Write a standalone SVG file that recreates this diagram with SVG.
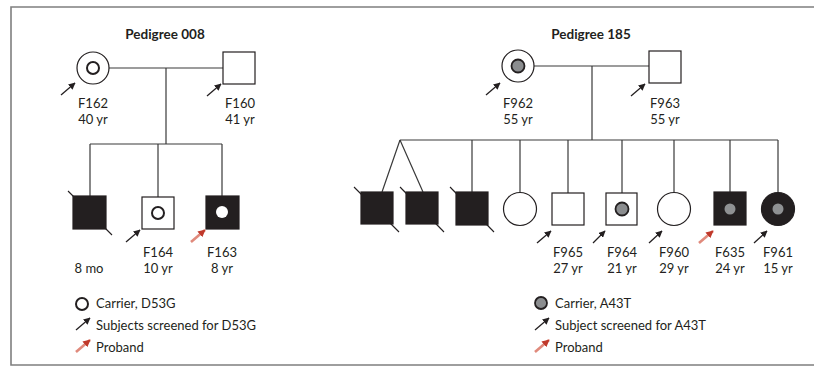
<svg xmlns="http://www.w3.org/2000/svg" width="814" height="367" viewBox="0 0 814 367">
<style>
.t{font-family:Lato,"Liberation Sans",sans-serif;font-size:13px;fill:#231f20}
.c{text-anchor:middle}
.h{font-weight:700;font-size:13.5px}
.ln{stroke:#3a3a3a;stroke-width:1.2;fill:none}
.sym{stroke:#231f20;stroke-width:1.2;fill:#fff}
.blk{fill:#231f20;stroke:#231f20;stroke-width:1.2}
.dot{fill:#fff;stroke:#231f20;stroke-width:2}
.gry{fill:#8b8d8f;stroke:#231f20;stroke-width:1.8}
.gdot{fill:#8f9193}
.wdot{fill:#fff}
.ar{stroke:#231f20;stroke-width:1.3;fill:none;marker-end:url(#ah)}
.pr{stroke:#e08a7c;stroke-width:2.6;fill:none;marker-end:url(#rh)}
.sl{stroke:#231f20;stroke-width:1.1}
</style>
<defs>
<marker id="ah" viewBox="0 0 10 10" refX="9" refY="5" markerWidth="7" markerHeight="7" markerUnits="userSpaceOnUse" orient="auto"><path d="M0,0 L10,5 L0,10 z" fill="#231f20"/></marker>
<marker id="rh" viewBox="0 0 10 10" refX="9" refY="5" markerWidth="7.5" markerHeight="7.5" markerUnits="userSpaceOnUse" orient="auto"><path d="M0,0 L10,5 L0,10 z" fill="#c0392b"/></marker>
</defs>
<rect width="814" height="367" fill="#fff"/>
<path d="M814,7 H11 V365 H814" fill="none" stroke="#7f7f7f" stroke-width="1.6"/>

<g id="connectors">
<path class="ln" d="M109,68 H223 M166,68 V144 M90,144 H222 M90,144 V196 M158,144 V197 M222,144 V196"/>
<path class="ln" d="M534,66 H649 M592,66 V140 M400,140 H778 M400,140 L382,192 M400,140 L423,192 M472,140 V192 M520,140 V192 M568,140 V193 M622,140 V193 M674,140 V192 M730,140 V192 M778,140 V192"/>
</g>

<text class="t h c" x="165" y="39">Pedigree 008</text>
<text class="t h c" x="591" y="39">Pedigree 185</text>

<g id="F162"><circle class="sym" cx="93" cy="68" r="16"/><circle class="dot" cx="93" cy="68" r="6"/><path class="ar" d="M61,95 L75,83"/><text class="t c" x="93" y="108">F162</text><text class="t c" x="93" y="124">40 yr</text></g>
<g id="F160"><rect class="sym" x="223" y="52" width="32" height="32"/><path class="ar" d="M207,96 L221,84"/><text class="t c" x="240" y="108">F160</text><text class="t c" x="240" y="124">41 yr</text></g>
<g id="c008a"><line class="sl" x1="68" y1="191" x2="112" y2="235"/><rect class="blk" x="73" y="196" width="33" height="33"/><text class="t c" x="89" y="273">8 mo</text></g>
<g id="F164"><rect class="sym" x="142" y="197" width="32" height="32"/><circle class="dot" cx="158" cy="213" r="6"/><path class="ar" d="M126,242 L140,230"/><text class="t c" x="158" y="257">F164</text><text class="t c" x="158" y="273">10 yr</text></g>
<g id="F163"><rect class="blk" x="206" y="196" width="33" height="33"/><circle class="wdot" cx="222" cy="212" r="6"/><path class="pr" d="M191,242 L205,230"/><text class="t c" x="222" y="257">F163</text><text class="t c" x="222" y="273">8 yr</text></g>

<g id="legend008">
<circle cx="82" cy="304" r="6" fill="#fff" stroke="#231f20" stroke-width="2"/><text class="t" x="96" y="308">Carrier, D53G</text>
<path class="ar" d="M76,330 L90,318"/><text class="t" x="96" y="330">Subjects screened for D53G</text>
<path class="pr" d="M76,352 L90,340"/><text class="t" x="96" y="352">Proband</text>
</g>

<g id="F962"><circle class="sym" cx="518" cy="66" r="16"/><circle class="gry" cx="518" cy="66" r="6.5"/><path class="ar" d="M486,95 L500,83"/><text class="t c" x="518" y="108">F962</text><text class="t c" x="518" y="124">55 yr</text></g>
<g id="F963"><rect class="sym" x="649" y="51" width="32" height="32"/><path class="ar" d="M631,96 L645,84"/><text class="t c" x="665" y="108">F963</text><text class="t c" x="665" y="124">55 yr</text></g>
<g id="c185a"><line class="sl" x1="354" y1="187" x2="399" y2="232"/><rect class="blk" x="361" y="192" width="32" height="32"/></g>
<g id="c185b"><line class="sl" x1="400" y1="187" x2="444" y2="232"/><rect class="blk" x="406" y="192" width="32" height="32"/></g>
<g id="c185c"><line class="sl" x1="450" y1="187" x2="494" y2="232"/><rect class="blk" x="456" y="192" width="32" height="33"/></g>
<g id="c185d"><circle class="sym" cx="520" cy="209" r="16.5"/></g>
<g id="F965"><rect class="sym" x="552" y="193" width="32" height="32"/><path class="ar" d="M537,243 L551,231"/><text class="t c" x="568" y="257">F965</text><text class="t c" x="568" y="273">27 yr</text></g>
<g id="F964"><rect class="sym" x="606" y="193" width="31" height="32"/><circle class="gry" cx="622" cy="209" r="6.5"/><path class="ar" d="M593,243 L605,231"/><text class="t c" x="622" y="257">F964</text><text class="t c" x="622" y="273">21 yr</text></g>
<g id="F960"><circle class="sym" cx="674" cy="209" r="16.5"/><path class="ar" d="M649,243 L662,231"/><text class="t c" x="674" y="257">F960</text><text class="t c" x="674" y="273">29 yr</text></g>
<g id="F635"><rect class="blk" x="714" y="192" width="32" height="33"/><circle class="gdot" cx="730" cy="209" r="5.5"/><path class="pr" d="M699,243 L713,231"/><text class="t c" x="730" y="257">F635</text><text class="t c" x="730" y="273">24 yr</text></g>
<g id="F961"><circle class="blk" cx="778" cy="209" r="16.5"/><circle class="gdot" cx="778" cy="209" r="5.5"/><path class="ar" d="M754,243 L767,231"/><text class="t c" x="778" y="257">F961</text><text class="t c" x="778" y="273">15 yr</text></g>

<g id="legend185">
<circle class="gry" cx="541" cy="303" r="6"/><text class="t" x="555" y="308">Carrier, A43T</text>
<path class="ar" d="M535,330 L549,318"/><text class="t" x="555" y="330">Subject screened for A43T</text>
<path class="pr" d="M535,352 L549,340"/><text class="t" x="555" y="352">Proband</text>
</g>
</svg>
